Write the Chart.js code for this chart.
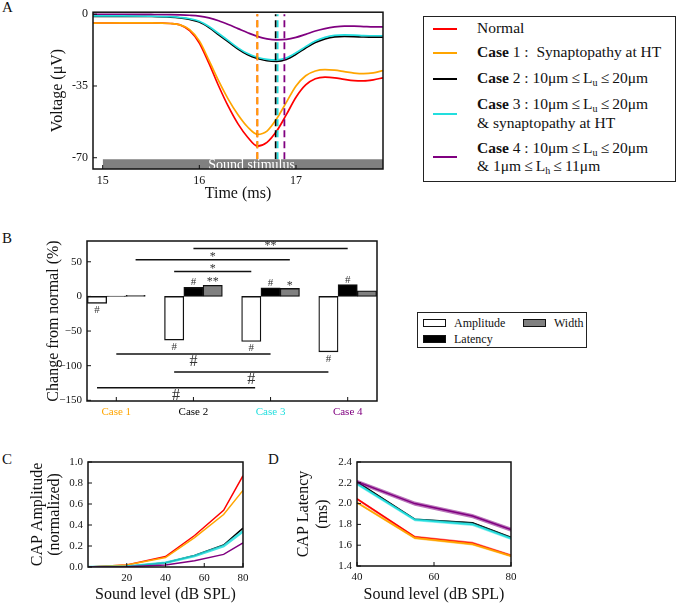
<!DOCTYPE html>
<html>
<head>
<meta charset="utf-8">
<script src="https://cdn.jsdelivr.net/npm/chart.js@4.4.0/dist/chart.umd.min.js"></script>
<style>
  html, body { margin: 0; padding: 0; background: #fff; }
  body { width: 678px; height: 604px; position: relative; overflow: hidden; font-family: "Liberation Serif", "Times New Roman", serif; color: #111; }
  canvas { position: absolute; }
  .letter { position: absolute; font-size: 15px; line-height: 15px; }
  #legA { position: absolute; left: 423px; top: 16px; width: 251px; height: 164px; border: 1.5px solid #222; font-size: 15.5px; }
  #legA .sw { position: absolute; left: 9px; width: 24px; height: 2px; }
  #legA .tx { position: absolute; left: 53px; line-height: 18.5px; white-space: nowrap; }
  #legA sub { font-size: 10px; line-height: 0; vertical-align: baseline; position: relative; top: 3px; }
  #legB { position: absolute; left: 417px; top: 312px; width: 168px; height: 34px; border: 1px solid #222; font-size: 12px; }
  #legB .sw { position: absolute; width: 21px; height: 6px; border: 1px solid #111; }
  #legB .tx { position: absolute; line-height: 12px; }
</style>
</head>
<body>
<div class="letter" style="left:2px;top:0px">A</div>
<div class="letter" style="left:2px;top:231px">B</div>
<div class="letter" style="left:2px;top:452px">C</div>
<div class="letter" style="left:268px;top:452px">D</div>

<canvas id="chartA" width="400" height="210" style="left:0;top:0"></canvas>
<canvas id="chartB" width="400" height="205" style="left:0;top:215px"></canvas>
<canvas id="chartC" width="260" height="164" style="left:0;top:440px"></canvas>
<canvas id="chartD" width="270" height="164" style="left:260px;top:440px"></canvas>

<div id="legA"></div>
<div id="legB"></div>

<script>
// series shared by all panels
const seriesNames = ['Normal', 'Case 1', 'Case 2', 'Case 3', 'Case 4'];
const seriesColors = ['#ff0000', '#ffa500', '#000000', '#22dede', '#800080'];
const legendText = [
  'Normal',
  '<b>Case</b> 1 :&nbsp; Synaptopathy at HT',
  '<b>Case</b> 2 : 10μm&thinsp;≤&thinsp;L<sub>u</sub>&thinsp;≤&thinsp;20μm',
  '<b>Case</b> 3 : 10μm&thinsp;≤&thinsp;L<sub>u</sub>&thinsp;≤&thinsp;20μm<br>&amp; synaptopathy at HT',
  '<b>Case</b> 4 : 10μm&thinsp;≤&thinsp;L<sub>u</sub>&thinsp;≤&thinsp;20μm<br>&amp; 1μm&thinsp;≤&thinsp;L<sub>h</sub>&thinsp;≤&thinsp;11μm'
];

// A: CAP traces
const timeMs = [14.9, 15.2, 15.5, 15.7, 15.8, 15.9, 16.0, 16.1, 16.2, 16.3, 16.4, 16.5, 16.6,
                16.7, 16.8, 16.9, 17.0, 17.1, 17.2, 17.3, 17.4, 17.5, 17.6, 17.7, 17.8, 17.9];
const vNormal = [-4.3, -4.2, -4.2, -4.5, -5.2, -8, -14, -24, -35, -45, -53.5, -60, -64.3,
                 -62.5, -57, -49, -40.5, -34.5, -31.5, -30.7, -31, -31.8, -32.4, -32.5, -32, -31];
const vCase1 = [-4.3, -4.2, -4.2, -4.5, -5.2, -7.5, -13, -22.5, -32.5, -41.5, -49, -55, -58.6,
                -57, -51, -43, -35, -30, -27.7, -27, -27.3, -28, -28.7, -29, -28.6, -27.5];
const vCase2 = [-1, -1, -1.1, -1.4, -1.8, -2.5, -3.8, -6.5, -10, -13.5, -17, -19.8, -21.6,
                -22.7, -23, -22, -19.5, -16.5, -13.8, -12, -11, -10.8, -10.9, -11.1, -11.2, -11.2];
const vCase3 = [-0.8, -0.8, -0.9, -1.2, -1.6, -2.2, -3.4, -6, -9.4, -12.9, -16.4, -19.2, -21,
                -22, -22.3, -21.3, -18.8, -15.8, -13.1, -11.3, -10.3, -10.1, -10.2, -10.4, -10.5, -10.5];
const vCase4 = [0, 0, -0.1, -0.2, -0.3, -0.5, -0.9, -1.8, -3.2, -5, -7, -9, -10.8,
                -12, -12.5, -12.3, -11.3, -9.8, -8.2, -7, -6.2, -5.8, -5.8, -6, -6.2, -6.2];
const peakTimes = [16.6, 16.6, 16.79, 16.81, 16.88];
const stimulusOn = 15.0, stimulusOff = 17.9, stimulusTop = -70.8;

// B: change from normal (%)
const cases = ['Case 1', 'Case 2', 'Case 3', 'Case 4'];
const caseColors = ['#ffa500', '#000000', '#22dede', '#800080'];
const amplitudeChange = [-10, -63, -65, -80];
const latencyChange = [0.6, 13, 12.5, 17];
const widthChange = [1.5, 16, 11.5, 8];
const amplitudeMarks = ['#', '#', '#', '#'];
const latencyMarks = ['', '#', '#', '#'];
const widthMarks = ['', '**', '*', ''];
const compFrom = [1, 0.25, 0.75, 0, 0.75, -0.25];
const compTo = [3, 2.25, 1.75, 2, 2.75, 1.8];
const compLevel = [69, 53, 36, -83, -109, -132];
const compMark = ['**', '*', '*', '#', '#', '#'];

// C: CAP amplitude vs level
const levelsC = [0, 20, 40, 55, 70, 80];
const ampNormal = [0, 0.02, 0.1, 0.3, 0.54, 0.87];
const ampCase1 = [0, 0.02, 0.09, 0.28, 0.5, 0.73];
const ampCase2 = [0, 0.005, 0.04, 0.11, 0.21, 0.37];
const ampCase3 = [0, 0.005, 0.04, 0.105, 0.2, 0.34];
const ampCase4 = [0, 0.002, 0.02, 0.06, 0.12, 0.23];

// D: CAP latency vs level
const levelsD = [40, 55, 70, 80];
const latNormal = [2.045, 1.68, 1.62, 1.5];
const latCase1 = [2.01, 1.67, 1.61, 1.495];
const latCase2 = [2.21, 1.85, 1.815, 1.675];
const latCase3 = [2.19, 1.845, 1.8, 1.665];
const latCase4 = [2.21, 2.0, 1.88, 1.75];
const latSpread = [0.012, 0.012, 0.005, 0.015, 0.02];

Chart.defaults.font.family = '"Liberation Serif", "Times New Roman", serif';
Chart.defaults.color = '#111';
Chart.defaults.animation = false;

function fixTicks(values) {
  return s => { s.ticks = values.map(v => ({ value: v })); };
}
function alpha(hex, a) {
  const n = parseInt(hex.slice(1), 16);
  return `rgba(${n >> 16},${(n >> 8) & 255},${n & 255},${a})`;
}

// matplotlib-like frame with inward ticks
const frame = {
  id: 'frame',
  afterDatasetsDraw(chart) {
    const { ctx, chartArea: a, scales } = chart;
    ctx.save();
    ctx.strokeStyle = '#111';
    ctx.lineWidth = 1;
    ctx.beginPath();
    scales.x.ticks.forEach(t => {
      const px = scales.x.getPixelForValue(t.value);
      ctx.moveTo(px, a.bottom); ctx.lineTo(px, a.bottom - 4);
    });
    scales.y.ticks.forEach(t => {
      const py = scales.y.getPixelForValue(t.value);
      ctx.moveTo(a.left, py); ctx.lineTo(a.left + 4, py);
    });
    ctx.stroke();
    ctx.lineWidth = 1.5;
    ctx.strokeRect(a.left, a.top, a.right - a.left, a.bottom - a.top);
    ctx.restore();
  }
};

function baseOptions(o) {
  return {
    responsive: false,
    maintainAspectRatio: false,
    layout: { padding: o.padding },
    plugins: { legend: { display: false }, tooltip: { enabled: false } },
    scales: {
      x: {
        type: 'linear', min: o.xMin, max: o.xMax, offset: false,
        grid: { display: false, drawTicks: false }, border: { display: false },
        afterBuildTicks: fixTicks(o.xTicks),
        afterFit: s => { s.height = o.xHeight; },
        ticks: Object.assign({ padding: 5, font: { size: o.tickSize }, maxRotation: 0, autoSkip: false }, o.xTickOpts || {}),
        title: { display: !!o.xTitle, text: o.xTitle, font: { size: 16 }, padding: { top: 0, bottom: o.xTitlePad } }
      },
      y: {
        min: o.yMin, max: o.yMax,
        grid: { display: false, drawTicks: false }, border: { display: false },
        afterBuildTicks: fixTicks(o.yTicks),
        afterFit: s => { s.width = o.yWidth; },
        ticks: { padding: 5, font: { size: o.tickSize }, callback: o.yFormat },
        title: { display: true, text: o.yTitle, font: { size: 16, lineHeight: o.yLineHeight || 1.2 }, padding: { top: o.yTitlePad, bottom: 0 } }
      }
    }
  };
}

// legend A
const legA = document.getElementById('legA');
const legRowY = [11.5, 35.5, 61.5, 96.5, 140];
legendText.forEach((html, k) => {
  const lines = html.split('<br>').length;
  const sw = document.createElement('div');
  sw.className = 'sw';
  sw.style.background = seriesColors[k];
  sw.style.top = (legRowY[k] - 1) + 'px';
  legA.appendChild(sw);
  const tx = document.createElement('div');
  tx.className = 'tx';
  tx.innerHTML = html;
  tx.style.top = (legRowY[k] - lines * 18.5 / 2) + 'px';
  legA.appendChild(tx);
});

// legend B
const measureNames = ['Amplitude', 'Latency', 'Width'];
const measureColors = ['#ffffff', '#000000', '#808080'];
const legB = document.getElementById('legB');
[[5, 6], [5, 22], [105, 6]].forEach(([lx, ty], k) => {
  const sw = document.createElement('div');
  sw.className = 'sw';
  sw.style.left = lx + 'px'; sw.style.top = ty + 'px';
  sw.style.background = measureColors[k];
  legB.appendChild(sw);
  const tx = document.createElement('div');
  tx.className = 'tx';
  tx.textContent = measureNames[k];
  tx.style.left = (lx + 31) + 'px'; tx.style.top = (ty - 2) + 'px';
  legB.appendChild(tx);
});

// ---------- A ----------
const traces = [vNormal, vCase1, vCase2, vCase3, vCase4];
const dsA = [];
traces.forEach((v, k) => dsA.push({
  data: timeMs.map((t, i) => ({ x: t, y: v[i] })),
  borderColor: seriesColors[k], borderWidth: 1.7, pointRadius: 0,
  cubicInterpolationMode: 'monotone', fill: false, order: 10 - k
}));
peakTimes.forEach((t, k) => dsA.push({
  data: [{ x: t, y: stimulusTop }, { x: t, y: 0 }],
  borderColor: seriesColors[k], borderWidth: 1.8, borderDash: [7, 4],
  pointRadius: 0, fill: false, order: 4.9 - k * 0.1
}));
dsA.push({
  data: [{ x: stimulusOn, y: stimulusTop }, { x: stimulusOff, y: stimulusTop }],
  borderWidth: 0, pointRadius: 0, fill: 'start', backgroundColor: '#808080', order: 1
});

const stimLabel = {
  id: 'stimLabel',
  afterDatasetsDraw(chart) {
    const { ctx, scales: { x, y } } = chart;
    ctx.save();
    ctx.fillStyle = '#fff';
    ctx.font = '14px "Liberation Serif"';
    ctx.textAlign = 'center';
    ctx.textBaseline = 'middle';
    ctx.fillText('Sound stimulus', x.getPixelForValue(16.54), (y.getPixelForValue(stimulusTop) + y.bottom) / 2 + 1);
    ctx.restore();
  }
};

new Chart(document.getElementById('chartA'), {
  type: 'line',
  data: { datasets: dsA },
  options: baseOptions({
    padding: { left: 0, top: 9, right: 17, bottom: 0 },
    xMin: 14.9, xMax: 17.9, xTicks: [15, 16, 17], xHeight: 41, xTitle: 'Time (ms)', xTitlePad: 7,
    yMin: -75.5, yMax: 1, yTicks: [-70, -35, 0], yWidth: 93, yTitle: 'Voltage (μV)', yTitlePad: 48,
    tickSize: 12
  }),
  plugins: [stimLabel, frame]
});

// ---------- B ----------
const measureOffset = [-0.25, 0, 0.25];
const measures = [amplitudeChange, latencyChange, widthChange];
const dsB = measures.map((vals, m) => ({
  type: 'bar',
  data: vals.map((v, i) => ({ x: i + measureOffset[m], y: v })),
  backgroundColor: measureColors[m], borderColor: '#111', borderWidth: 1.3, borderSkipped: false,
  grouped: false, barPercentage: 1, categoryPercentage: 1, order: 5
}));
compFrom.forEach((f, k) => dsB.push({
  type: 'line',
  data: [{ x: f, y: compLevel[k] }, { x: compTo[k], y: compLevel[k] }],
  borderColor: '#111', borderWidth: 1.5, pointRadius: 0, fill: false, order: 1
}));

const sigMarks = {
  id: 'sigMarks',
  afterDatasetsDraw(chart) {
    const { ctx, scales: { x, y } } = chart;
    ctx.save();
    ctx.fillStyle = '#333';
    ctx.textAlign = 'center';
    ctx.textBaseline = 'middle';
    const put = (txt, px, py, size) => { ctx.font = size + 'px "Liberation Serif"'; ctx.fillText(txt, px, py); };
    cases.forEach((c, i) => {
      put(amplitudeMarks[i], x.getPixelForValue(i - 0.25), y.getPixelForValue(amplitudeChange[i]) + 7, 11);
      put(latencyMarks[i], x.getPixelForValue(i), y.getPixelForValue(latencyChange[i]) - 5, 11);
      put(widthMarks[i], x.getPixelForValue(i + 0.25), y.getPixelForValue(widthChange[i]) - 3, 12);
    });
    compMark.forEach((m, k) => {
      const px = x.getPixelForValue((compFrom[k] + compTo[k]) / 2);
      const py = y.getPixelForValue(compLevel[k]);
      if (compLevel[k] > 0) put(m, px, py - 3, 12);
      else put(m, px, py + 8, 16);
    });
    ctx.restore();
  }
};

new Chart(document.getElementById('chartB'), {
  type: 'bar',
  data: { datasets: dsB },
  options: baseOptions({
    padding: { left: 0, top: 26, right: 23, bottom: 0 },
    xMin: -0.38, xMax: 3.38, xTicks: [0, 1, 2, 3], xHeight: 19, xTitle: '', xTitlePad: 0,
    xTickOpts: { callback: (v, i) => cases[i], color: c => caseColors[c.index] },
    yMin: -151, yMax: 80, yTicks: [-150, -100, -50, 0, 50], yWidth: 87,
    yTitle: 'Change from normal (%)', yTitlePad: 44,
    yFormat: v => (v < 0 ? '\u2212' + Math.abs(v) : String(v)),
    tickSize: 11
  }),
  plugins: [sigMarks, frame]
});

// ---------- C ----------
const ampSeries = [ampNormal, ampCase1, ampCase2, ampCase3, ampCase4];
const dsC = ampSeries.map((v, k) => ({
  data: levelsC.map((l, i) => ({ x: l, y: v[i] })),
  borderColor: k === 3 ? alpha(seriesColors[k], 0.85) : seriesColors[k],
  borderWidth: k === 3 ? 2.6 : 1.5, pointRadius: 0, fill: false, order: 10 - k
}));

new Chart(document.getElementById('chartC'), {
  type: 'line',
  data: { datasets: dsC },
  options: baseOptions({
    padding: { left: 0, top: 22, right: 17, bottom: 0 },
    xMin: 0, xMax: 80, xTicks: [20, 40, 60, 80], xHeight: 37, xTitle: 'Sound level (dB SPL)', xTitlePad: 0,
    yMin: 0, yMax: 1, yTicks: [0, 0.2, 0.4, 0.6, 0.8, 1.0], yWidth: 88,
    yTitle: ['CAP Amplitude', '(normalized)'], yTitlePad: 29, yLineHeight: 17 / 16,
    yFormat: v => v.toFixed(1),
    tickSize: 11
  }),
  plugins: [frame]
});

// ---------- D ----------
const latSeries = [latNormal, latCase1, latCase2, latCase3, latCase4];
const dsD = [];
latSeries.forEach((v, k) => {
  const base = dsD.length;
  dsD.push({
    data: levelsD.map((l, i) => ({ x: l, y: v[i] + latSpread[k] })),
    borderWidth: 0, pointRadius: 0, fill: false, order: 20 - 2 * k
  });
  dsD.push({
    data: levelsD.map((l, i) => ({ x: l, y: v[i] - latSpread[k] })),
    borderWidth: 0, pointRadius: 0, fill: { target: base }, backgroundColor: alpha(seriesColors[k], 0.55),
    order: 20 - 2 * k
  });
  dsD.push({
    data: levelsD.map((l, i) => ({ x: l, y: v[i] })),
    borderColor: seriesColors[k], borderWidth: 1.5, pointRadius: 0, fill: false, order: 19 - 2 * k
  });
});

new Chart(document.getElementById('chartD'), {
  type: 'line',
  data: { datasets: dsD },
  options: baseOptions({
    padding: { left: 0, top: 22, right: 19, bottom: 0 },
    xMin: 40, xMax: 80, xTicks: [40, 60, 80], xHeight: 38, xTitle: 'Sound level (dB SPL)', xTitlePad: 0,
    yMin: 1.4, yMax: 2.4, yTicks: [1.4, 1.6, 1.8, 2.0, 2.2, 2.4], yWidth: 97,
    yTitle: ['CAP Latency', '(ms)'], yTitlePad: 34, yLineHeight: 19 / 16,
    yFormat: v => v.toFixed(1),
    tickSize: 11
  }),
  plugins: [frame]
});
</script>
</body>
</html>
